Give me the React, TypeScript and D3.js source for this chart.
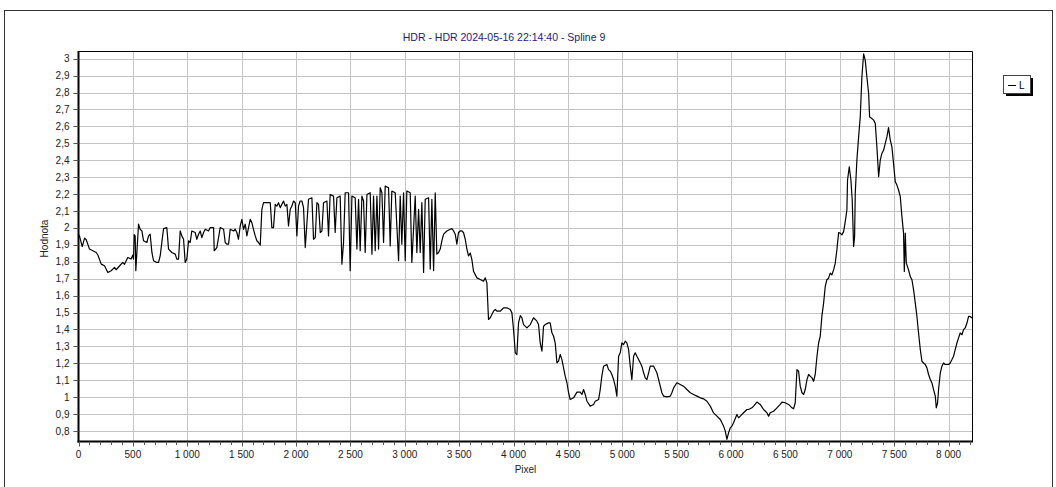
import React from "react";
import * as d3 from "d3";

const TITLE = "HDR - HDR 2024-05-16 22:14:40 - Spline 9";
const X_LABEL = "Pixel";
const Y_LABEL = "Hodnota";
const LEGEND_LABEL = "L";

const xTicks = [0, 500, 1000, 1500, 2000, 2500, 3000, 3500, 4000, 4500, 5000, 5500, 6000, 6500, 7000, 7500, 8000];
const yTicks = [0.8, 0.9, 1, 1.1, 1.2, 1.3, 1.4, 1.5, 1.6, 1.7, 1.8, 1.9, 2, 2.1, 2.2, 2.3, 2.4, 2.5, 2.6, 2.7, 2.8, 2.9, 3];

// [pixel, hodnota]
const segStart: [number, number][] = [
  [0, 1.96], [10, 1.95], [34, 1.89], [56, 1.94], [71, 1.93], [101, 1.875], [132, 1.865], [163, 1.855], [178, 1.84],
  [209, 1.786], [239, 1.776], [270, 1.737], [300, 1.747], [331, 1.767], [346, 1.753], [377, 1.775], [407, 1.796],
  [423, 1.785], [453, 1.825], [484, 1.816], [499, 1.84],
];

const segPlateau: [number, number][] = [
  [506, 1.816], [512, 1.96], [521, 1.953], [527, 1.747], [552, 2.022], [567, 1.992], [583, 1.982], [598, 1.924],
  [629, 1.914], [644, 1.953], [659, 1.963], [675, 1.855], [690, 1.806], [720, 1.796], [736, 1.796], [751, 1.835],
  [782, 1.996], [812, 2.002], [828, 1.875], [858, 1.855], [889, 1.845], [904, 1.816], [920, 1.816], [935, 1.982],
  [950, 1.953], [966, 1.933], [981, 1.796], [996, 1.816], [1012, 1.924], [1027, 1.914], [1042, 1.982], [1073, 1.973],
  [1088, 1.933], [1104, 1.963], [1119, 1.982], [1134, 1.943], [1150, 1.973], [1165, 1.992], [1196, 1.982],
  [1211, 2.002], [1242, 2.002], [1248, 1.865], [1272, 1.884], [1303, 2.002], [1334, 1.992], [1349, 1.914],
  [1364, 1.904], [1380, 1.904], [1395, 1.992], [1426, 1.982], [1441, 1.992], [1456, 1.973], [1471, 1.933],
  [1487, 2.012], [1502, 2.051], [1518, 1.992], [1533, 2.022], [1548, 1.953], [1579, 2.051], [1594, 2.031],
  [1609, 1.992], [1625, 1.953], [1640, 1.924], [1655, 1.914], [1671, 1.898], [1686, 2.11], [1701, 2.149],
  [1732, 2.149], [1763, 2.149], [1778, 2.002], [1793, 2.002], [1809, 2.139], [1824, 2.129], [1839, 2.149],
  [1855, 2.12], [1885, 2.159], [1901, 2.129], [1916, 2.139], [1931, 2.012], [1947, 2.11], [1962, 2.129],
  [1977, 2.159], [1993, 2.149], [2008, 1.953], [2023, 2.129], [2038, 2.159], [2054, 2.159], [2069, 2.12],
  [2085, 1.884],
];

const segOscillation: [number, number][] = [
  [2115, 2.169], [2146, 2.178], [2161, 1.933], [2177, 1.943], [2192, 2.149], [2207, 2.139], [2223, 1.973],
  [2238, 1.982], [2253, 2.149], [2284, 2.159], [2299, 1.953], [2314, 2.198], [2345, 2.188], [2360, 1.973],
  [2376, 2.178], [2406, 2.188], [2422, 1.786], [2437, 1.914], [2452, 2.208], [2483, 2.208], [2498, 1.747],
  [2514, 2.188], [2544, 2.178], [2560, 1.875], [2575, 2.169], [2590, 1.865], [2606, 2.188], [2621, 2.159],
  [2636, 1.855], [2652, 2.198], [2682, 2.208], [2698, 1.845], [2713, 2.188], [2728, 1.865], [2744, 2.188],
  [2759, 1.875], [2774, 2.237], [2790, 2.208], [2805, 1.914], [2820, 2.247], [2851, 2.237], [2866, 1.894],
  [2881, 2.218], [2912, 2.208], [2943, 1.806], [2958, 2.188], [2973, 1.904], [2989, 2.208], [3004, 1.806],
  [3019, 2.218], [3050, 2.208], [3065, 1.796], [3096, 2.188], [3111, 1.855], [3127, 2.11], [3142, 1.855],
  [3157, 2.149], [3173, 1.737], [3188, 2.169], [3219, 2.178], [3234, 1.757], [3249, 2.169], [3265, 1.747],
  [3280, 2.208], [3295, 1.845], [3311, 1.855], [3326, 1.875], [3341, 1.924], [3357, 1.963], [3387, 1.982],
  [3418, 1.992], [3433, 1.996], [3449, 1.982], [3464, 1.963], [3479, 1.904], [3494, 1.973], [3510, 1.982],
  [3525, 1.982], [3540, 1.973], [3556, 1.933], [3571, 1.875], [3586, 1.835],
];

const segDecline: [number, number][] = [
  [3602, 1.852], [3617, 1.813], [3632, 1.744], [3648, 1.724], [3663, 1.705], [3694, 1.695], [3724, 1.685],
  [3740, 1.705], [3755, 1.675], [3770, 1.459], [3786, 1.469], [3801, 1.488], [3816, 1.508], [3832, 1.518],
  [3847, 1.508], [3878, 1.508], [3893, 1.518], [3908, 1.528], [3939, 1.528], [3970, 1.518], [3985, 1.498],
  [4000, 1.4], [4016, 1.262], [4031, 1.252], [4046, 1.439], [4062, 1.482], [4077, 1.469], [4092, 1.429],
  [4123, 1.409], [4154, 1.429], [4184, 1.469], [4215, 1.449], [4230, 1.429], [4245, 1.321], [4261, 1.272],
  [4276, 1.419], [4291, 1.429], [4322, 1.439], [4337, 1.439], [4353, 1.38], [4368, 1.36], [4383, 1.321],
  [4399, 1.203], [4414, 1.213], [4429, 1.252], [4445, 1.222], [4460, 1.173], [4475, 1.124], [4491, 1.085],
  [4506, 1.026], [4521, 0.986], [4552, 0.996], [4583, 1.03], [4613, 1.03], [4629, 1.016], [4644, 1.045],
  [4659, 1.016], [4675, 0.976], [4705, 0.947], [4736, 0.957], [4751, 0.976], [4782, 0.986], [4797, 1.045],
  [4812, 1.124], [4828, 1.183], [4858, 1.193], [4874, 1.163], [4889, 1.154], [4904, 1.134], [4920, 1.104],
  [4935, 1.065], [4950, 1.006], [4966, 1.242], [4981, 1.262], [4996, 1.321], [5012, 1.311], [5027, 1.331],
  [5042, 1.321], [5058, 1.281], [5073, 1.183], [5088, 1.104], [5104, 1.242], [5119, 1.262], [5134, 1.242],
  [5150, 1.222], [5165, 1.203], [5180, 1.183], [5196, 1.144], [5211, 1.114], [5226, 1.104], [5242, 1.144],
  [5257, 1.183], [5288, 1.183], [5303, 1.163], [5318, 1.144], [5334, 1.104], [5364, 1.026], [5380, 1.006],
  [5410, 1.002], [5441, 1.006], [5456, 1.026], [5472, 1.055], [5502, 1.085], [5533, 1.075], [5563, 1.065],
  [5594, 1.045], [5625, 1.026], [5655, 1.016], [5686, 1.006], [5717, 0.996], [5747, 0.99], [5778, 0.976],
  [5809, 0.947], [5839, 0.907], [5870, 0.888], [5901, 0.868], [5931, 0.829], [5947, 0.799], [5962, 0.75],
  [5977, 0.789],
];

const segPeak: [number, number][] = [
  [5993, 0.819], [6008, 0.829], [6023, 0.849], [6054, 0.898], [6069, 0.878], [6085, 0.888], [6115, 0.908],
  [6146, 0.927], [6161, 0.927], [6192, 0.937], [6207, 0.947], [6238, 0.971], [6268, 0.957], [6299, 0.927],
  [6330, 0.908], [6345, 0.888], [6360, 0.908], [6391, 0.917], [6422, 0.937], [6452, 0.957], [6468, 0.971],
  [6498, 0.967], [6529, 0.957], [6560, 0.937], [6575, 0.931], [6590, 0.967], [6606, 1.163], [6621, 1.153],
  [6636, 1.065], [6652, 1.026], [6667, 1.016], [6682, 1.045], [6698, 1.104], [6713, 1.134], [6728, 1.124],
  [6744, 1.114], [6759, 1.094], [6774, 1.134], [6790, 1.242], [6805, 1.32], [6820, 1.36], [6835, 1.477],
  [6851, 1.556], [6866, 1.654], [6881, 1.694], [6897, 1.703], [6912, 1.733], [6927, 1.723], [6943, 1.752],
  [6958, 1.792], [6973, 1.87], [6989, 1.972], [7004, 1.969], [7019, 1.959], [7035, 1.978], [7050, 2.037],
  [7065, 2.106], [7071, 2.283], [7087, 2.361], [7102, 2.283], [7114, 2.165], [7127, 1.89], [7136, 1.949],
  [7142, 2.204], [7157, 2.401], [7173, 2.538], [7188, 2.656], [7203, 2.892], [7219, 3.029], [7234, 2.99],
  [7249, 2.892], [7265, 2.794], [7274, 2.656], [7295, 2.646], [7311, 2.637], [7326, 2.617], [7341, 2.479],
  [7357, 2.303], [7372, 2.401], [7387, 2.44], [7403, 2.46], [7418, 2.499], [7433, 2.538], [7448, 2.593],
  [7464, 2.519], [7479, 2.479], [7494, 2.381], [7510, 2.273], [7525, 2.253], [7540, 2.224], [7556, 2.185],
  [7571, 2.067], [7586, 1.969], [7593, 1.743], [7602, 1.969], [7611, 1.792], [7617, 1.782], [7632, 1.752],
  [7648, 1.713], [7663, 1.694], [7678, 1.635], [7694, 1.556], [7709, 1.477], [7724, 1.379], [7740, 1.281],
  [7755, 1.212], [7770, 1.202], [7786, 1.193], [7801, 1.173], [7816, 1.134], [7832, 1.104], [7847, 1.084],
  [7862, 1.045], [7878, 1.006], [7887, 0.937], [7899, 0.967], [7908, 1.045], [7924, 1.144], [7939, 1.183],
  [7954, 1.202], [7969, 1.193], [7985, 1.193], [8000, 1.193], [8015, 1.202], [8031, 1.222], [8046, 1.242],
  [8061, 1.281], [8077, 1.32], [8092, 1.35], [8107, 1.379], [8123, 1.369], [8138, 1.399], [8153, 1.409],
  [8169, 1.438], [8184, 1.477], [8199, 1.477], [8215, 1.468],
];

const series = [...segStart, ...segPlateau, ...segOscillation, ...segDecline, ...segPeak];

const W = 1056;
const H = 487;
const plot = { left: 78.5, right: 972.5, top: 51.5, bottom: 441.5 };
const FONT = "'Liberation Sans', Arial, sans-serif";

const locale = d3.formatLocale({ decimal: ",", thousands: " ", grouping: [3], currency: ["", ""] });
const fmtX = locale.format(",d");
const fmtY = locale.format("~g");

export default function App() {
  const x = d3.scaleLinear().domain([0, 8220]).range([plot.left, plot.right]);
  const y = d3.scaleLinear().domain([0.738, 3.0425]).range([plot.bottom, plot.top]);
  const line = d3
    .line<[number, number]>()
    .x((d) => x(d[0]))
    .y((d) => y(d[1]));
  const minorX = d3.range(0, 8201, 100);

  return (
    <svg
      width={W}
      height={H}
      style={{ position: "absolute", left: 0, top: 0, background: "#fff" }}
      fontFamily={FONT}
    >
      <rect x={0} y={0} width={W} height={H} fill="#fff" />
      <rect x={4.5} y={10.5} width={1048} height={490} fill="none" stroke="#333" strokeWidth={1} />
      <defs>
        <clipPath id="plotclip">
          <rect x={plot.left} y={plot.top - 1} width={plot.right - plot.left} height={plot.bottom - plot.top + 1} />
        </clipPath>
      </defs>
      <text x={504} y={41} textAnchor="middle" fontSize={10.5} fill="#1c1c7c">
        {TITLE}
      </text>
      {/* grid */}
      {xTicks.slice(1).map((t) => (
        <line key={"gx" + t} x1={Math.round(x(t)) + 0.5} x2={Math.round(x(t)) + 0.5} y1={plot.top} y2={plot.bottom} stroke="#c4c4c4" strokeWidth={1} />
      ))}
      {yTicks.map((t) => (
        <line key={"gy" + t} x1={plot.left} x2={plot.right} y1={Math.round(y(t)) + 0.5} y2={Math.round(y(t)) + 0.5} stroke="#c4c4c4" strokeWidth={1} />
      ))}
      {/* series */}
      <path d={line(series) || ""} fill="none" stroke="#000" strokeWidth={1.2} strokeLinejoin="round" clipPath="url(#plotclip)" />
      {/* frame */}
      <line x1={plot.left} x2={plot.right} y1={plot.top} y2={plot.top} stroke="#000" strokeWidth={1} />
      <line x1={plot.right} x2={plot.right} y1={plot.top} y2={plot.bottom} stroke="#000" strokeWidth={1} />
      <line x1={plot.left} x2={plot.left} y1={plot.top - 0.5} y2={plot.bottom + 1} stroke="#000" strokeWidth={2} />
      <line x1={plot.left - 1} x2={plot.right + 0.5} y1={plot.bottom} y2={plot.bottom} stroke="#000" strokeWidth={2} />
      {/* y ticks */}
      {yTicks.map((t) => (
        <g key={"yt" + t}>
          <line x1={plot.left - 5} x2={plot.left} y1={Math.round(y(t)) + 0.5} y2={Math.round(y(t)) + 0.5} stroke="#555" strokeWidth={1} />
          <text x={plot.left - 9} y={y(t) + 3.5} textAnchor="end" fontSize={10} fill="#222">
            {fmtY(t)}
          </text>
        </g>
      ))}
      {/* x ticks */}
      {minorX.map((t) => (
        <line key={"xm" + t} x1={Math.round(x(t)) + 0.5} x2={Math.round(x(t)) + 0.5} y1={plot.bottom} y2={plot.bottom + (t % 500 === 0 ? 5 : 3.5)} stroke="#555" strokeWidth={1} />
      ))}
      {xTicks.map((t) => (
        <text key={"xt" + t} x={x(t)} y={458} textAnchor="middle" fontSize={10} fill="#222">
          {fmtX(t)}
        </text>
      ))}
      <text x={(plot.left + plot.right) / 2} y={473} textAnchor="middle" fontSize={10} fill="#222">
        {X_LABEL}
      </text>
      <text transform={`translate(48,${(plot.top + plot.bottom) / 2 - 8}) rotate(-90)`} textAnchor="middle" fontSize={10} fill="#222">
        {Y_LABEL}
      </text>
      {/* legend */}
      <rect x={1006} y={78} width={27} height={18} fill="#000" />
      <rect x={1003.5} y={75.5} width={27} height={18} fill="#fff" stroke="#444" strokeWidth={1} />
      <line x1={1008} x2={1016} y1={85.5} y2={85.5} stroke="#000" strokeWidth={1} />
      <text x={1019} y={89} fontSize={10} fill="#000">
        {LEGEND_LABEL}
      </text>
    </svg>
  );
}
